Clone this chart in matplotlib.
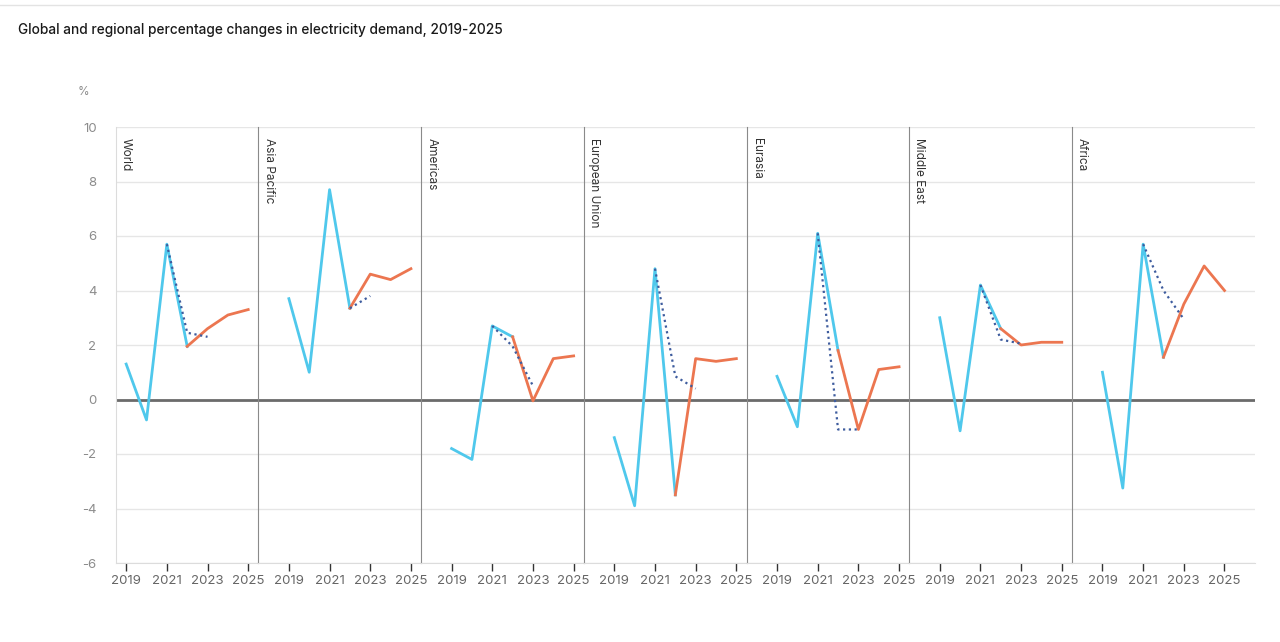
import matplotlib
matplotlib.use("Agg")
import matplotlib.pyplot as plt
from matplotlib.transforms import offset_copy

plt.rcParams['font.family'] = ['Inter', 'DejaVu Sans']
plt.rcParams['axes.unicode_minus'] = False

years = [2019, 2020, 2021, 2022, 2023, 2024, 2025]
regions = ["World", "Asia Pacific", "Americas", "European Union", "Eurasia", "Middle East", "Africa"]

# actual (2019-2022)
actual_years = [2019, 2020, 2021, 2022]
actual = {
    "World":          [1.3, -0.75, 5.7, 1.95],
    "Asia Pacific":   [3.7, 1.0, 7.7, 3.35],
    "Americas":       [-1.8, -2.2, 2.7, 2.3],
    "European Union": [-1.4, -3.9, 4.8, -3.5],
    "Eurasia":        [0.85, -1.0, 6.1, 1.8],
    "Middle East":    [3.0, -1.15, 4.2, 2.6],
    "Africa":         [1.0, -3.25, 5.7, 1.55],
}
# forecast (2022-2025)
forecast_years = [2022, 2023, 2024, 2025]
forecast = {
    "World":          [1.95, 2.6, 3.1, 3.3],
    "Asia Pacific":   [3.35, 4.6, 4.4, 4.8],
    "Americas":       [2.3, -0.05, 1.5, 1.6],
    "European Union": [-3.5, 1.5, 1.4, 1.5],
    "Eurasia":        [1.8, -1.1, 1.1, 1.2],
    "Middle East":    [2.6, 2.0, 2.1, 2.1],
    "Africa":         [1.55, 3.5, 4.9, 4.0],
}
# previous estimate (dotted, 2021-2023)
previous_years = [2021, 2022, 2023]
previous = {
    "World":          [5.7, 2.45, 2.3],
    "Asia Pacific":   [None, 3.35, 3.8],
    "Americas":       [2.7, 1.95, 0.5],
    "European Union": [4.8, 0.85, 0.4],
    "Eurasia":        [6.1, -1.1, -1.1],
    "Middle East":    [4.2, 2.2, 2.05],
    "Africa":         [5.7, 4.0, 2.95],
}

yticks = [-6, -4, -2, 0, 2, 4, 6, 8, 10]
xtick_years = [2019, 2021, 2023, 2025]

c_blue = "#4FC8EC"
c_orange = "#EC7650"
c_dot = "#3E5C9E"

fig = plt.figure(figsize=(12.8, 6.42), dpi=100)
gs = fig.add_gridspec(1, 7, width_ratios=[7, 8, 8, 8, 8, 8, 9], wspace=0,
                      left=116/1280, right=1255/1280, top=1-127/642, bottom=1-563/642)

for i, reg in enumerate(regions):
    ax = fig.add_subplot(gs[0, i])
    if i == 0:
        ax.set_xlim(2018.5, 2025.5)
    elif i == 6:
        ax.set_xlim(2017.5, 2026.5)
    else:
        ax.set_xlim(2017.5, 2025.5)
    ax.set_ylim(-6, 10)
    ax.set_yticks(yticks)
    ax.grid(axis='y', color='#e6e6e6', lw=1)
    ax.set_axisbelow(True)
    ax.axhline(0, color='#6b6b6b', lw=2, zorder=2)

    ax.plot(actual_years, actual[reg], color=c_blue, lw=2, zorder=3)
    ax.plot(forecast_years, forecast[reg], color=c_orange, lw=2, zorder=3)
    py = [y for y, v in zip(previous_years, previous[reg]) if v is not None]
    pv = [v for v in previous[reg] if v is not None]
    ax.plot(py, pv, color=c_dot, lw=1.6, ls=(0, (1, 1.6)), zorder=4)

    for s in ['top', 'right']:
        ax.spines[s].set_visible(False)
    ax.spines['bottom'].set_color('#dcdcdc')
    if i == 0:
        ax.spines['left'].set_color('#dcdcdc')
        ax.tick_params(axis='y', length=0, pad=14, labelsize=9.5, labelcolor='#8c8c8c')
    else:
        ax.spines['left'].set_color('#8a8a8a')
        ax.tick_params(axis='y', length=0, labelleft=False)
    ax.set_xticks(xtick_years)
    ax.set_xticklabels([str(y) for y in xtick_years])
    ax.tick_params(axis='x', length=6, width=1, color='#333333', direction='out',
                   pad=3, labelsize=9.5, labelcolor='#666666')

    tr = offset_copy(ax.transAxes, fig=fig, x=3, y=-8, units='points')
    ax.text(0, 1, reg, transform=tr, rotation=-90, ha='left', va='top',
            fontsize=8.5, color='#333333')

fig.text(18/1280, 1-30/642, "Global and regional percentage changes in electricity demand, 2019-2025",
         fontsize=9.85, fontweight='medium', color='#1a1a1a', ha='left', va='center')
fig.text(83/1280, 1-92/642, "%", fontsize=8.5, color='#8c8c8c', ha='center', va='center')
fig.add_artist(plt.Line2D([0, 1], [1-5/642, 1-5/642], color='#e3e3e3', lw=1))

fig.savefig("out.png", dpi=100, facecolor='white')
